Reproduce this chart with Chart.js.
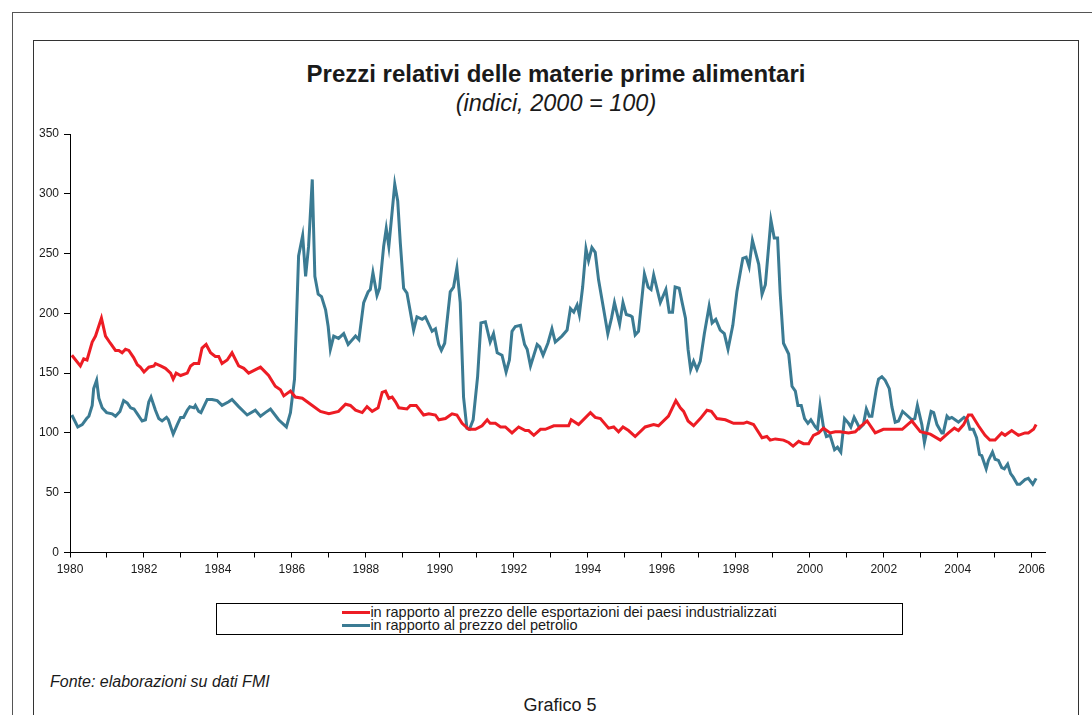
<!DOCTYPE html>
<html lang="it">
<head>
<meta charset="utf-8">
<title>Prezzi relativi delle materie prime alimentari</title>
<script src="https://cdn.jsdelivr.net/npm/chart.js@4.4.1/dist/chart.umd.min.js"></script>
<style>
    html, body { margin: 0; padding: 0; background: #fff; }
    body {
        width: 1092px; height: 715px; position: relative; overflow: hidden;
        font-family: "Liberation Sans", Arial, Helvetica, sans-serif; color: #1a1a1a;
    }
    .outer { position: absolute; left: 12px; top: 12px; width: 1100px; height: 720px;
             border-top: 1px solid #555; border-left: 1px solid #555; }
    .frame { position: absolute; left: 33px; top: 40px; width: 1044px; height: 700px;
             border: 1px solid #333; }
    .title { position: absolute; left: 33px; width: 1046px; top: 60px; text-align: center;
             font-size: 24px; line-height: 28px; font-weight: bold; }
    .subtitle { position: absolute; left: 33px; width: 1046px; top: 89px; text-align: center;
                font-size: 23.5px; line-height: 28px; font-style: italic; }
    .chart-wrap { position: absolute; left: 33px; top: 120px; width: 1045px; height: 470px; }
    .legend { position: absolute; left: 216px; top: 603px; width: 685px; height: 30px;
              border: 1px solid #000; text-align: center; }
    .legend-list { display: inline-block; text-align: left; margin-top: 2px; }
    .legend-item { font-size: 14.5px; line-height: 13px; white-space: nowrap; }
    .legend-swatch { display: inline-block; width: 28px; height: 3px; vertical-align: middle;
                     margin-top: -2px; }
    .source { position: absolute; left: 50px; top: 673px; font-size: 16px; line-height: 18px;
              font-style: italic; }
    .caption { position: absolute; left: 33px; width: 1054px; top: 695px; text-align: center;
               font-size: 18px; line-height: 20px; }
</style>
</head>
<body>
<div class="outer"></div>
<div class="frame"></div>
<div class="title">Prezzi relativi delle materie prime alimentari</div>
<div class="subtitle">(indici, 2000 = 100)</div>
<div class="chart-wrap"><canvas id="pricesChart" width="1045" height="470"></canvas></div>
<div class="legend"><div class="legend-list" id="legend"></div></div>
<div class="source">Fonte: elaborazioni su dati FMI</div>
<div class="caption">Grafico 5</div>

<script>
// food prices relative to industrial countries' export prices
const exportDates = [
    1980.05, 1980.28, 1980.37, 1980.46, 1980.60, 1980.69, 1980.85, 1980.96, 1981.09, 1981.23,
    1981.32, 1981.41, 1981.50, 1981.59, 1981.72, 1981.82, 1981.90, 1982.00, 1982.13, 1982.27,
    1982.31, 1982.45, 1982.58, 1982.72, 1982.79, 1982.87, 1982.99, 1983.17, 1983.26, 1983.35,
    1983.48, 1983.57, 1983.68, 1983.80, 1983.93, 1984.02, 1984.11, 1984.25, 1984.38, 1984.56,
    1984.70, 1984.83, 1985.15, 1985.37, 1985.55, 1985.69, 1985.78, 1985.96, 1986.09, 1986.28,
    1986.55, 1986.77, 1987.00, 1987.26, 1987.45, 1987.58, 1987.72, 1987.90, 1988.03, 1988.17,
    1988.33, 1988.44, 1988.53, 1988.62, 1988.71, 1988.80, 1988.89, 1989.11, 1989.20, 1989.36,
    1989.56, 1989.70, 1989.88, 1989.97, 1990.15, 1990.33, 1990.46, 1990.60, 1990.78, 1990.96,
    1991.14, 1991.28, 1991.36, 1991.50, 1991.64, 1991.77, 1991.95, 1992.13, 1992.31, 1992.40,
    1992.54, 1992.72, 1992.85, 1993.08, 1993.26, 1993.48, 1993.55, 1993.75, 1994.07, 1994.20,
    1994.34, 1994.56, 1994.70, 1994.83, 1994.95, 1995.10, 1995.28, 1995.55, 1995.78, 1995.91,
    1996.18, 1996.38, 1996.50, 1996.59, 1996.71, 1996.86, 1997.04, 1997.22, 1997.34, 1997.49,
    1997.72, 1997.94, 1998.21, 1998.30, 1998.48, 1998.71, 1998.84, 1998.93, 1999.07, 1999.29,
    1999.43, 1999.55, 1999.70, 1999.83, 1999.97, 2000.10, 2000.24, 2000.37, 2000.55, 2000.69,
    2000.82, 2001.05, 2001.23, 2001.36, 2001.55, 2001.77, 2001.99, 2002.22, 2002.50, 2002.76,
    2002.99, 2003.26, 2003.53, 2003.75, 2003.91, 2004.02, 2004.16, 2004.29, 2004.38, 2004.56,
    2004.74, 2004.87, 2005.01, 2005.19, 2005.28, 2005.46, 2005.64, 2005.82, 2005.91, 2006.05,
    2006.12
];
const exportValues = [
    165, 156, 162, 161, 176, 181, 196, 181, 175, 169,
    169, 167, 170, 169, 163, 157, 155, 151, 155, 156,
    158, 156, 154, 150, 145, 150, 148, 150, 156, 158,
    158, 171, 174, 167, 164, 164, 158, 161, 167, 156,
    154, 150, 155, 148, 139, 136, 131, 135, 130, 129,
    123, 118, 116, 118, 124, 123, 119, 117, 122, 118,
    121, 134, 135, 129, 130, 126, 121, 120, 123, 123,
    115, 116, 115, 111, 112, 116, 115, 108, 103, 103,
    106, 111, 108, 108, 105, 105, 100, 105, 102, 102,
    98, 103, 103, 106, 106, 106, 111, 107, 117, 113,
    112, 104, 105, 101, 105, 102, 97, 105, 107, 106,
    114, 127, 121, 118, 110, 106, 112, 119, 118, 112,
    111, 108, 108, 109, 107, 96, 97, 94, 95, 94,
    92, 89, 93, 91, 91, 98, 100, 104, 100, 101,
    101, 100, 101, 105, 110, 100, 103, 103, 103, 110,
    101, 99, 94, 100, 104, 102, 107, 115, 115, 106,
    98, 94, 94, 100, 98, 102, 98, 100, 100, 103,
    107
];

// food prices relative to oil price
const oilDates = [
    1980.05, 1980.21, 1980.33, 1980.45, 1980.51, 1980.60, 1980.64, 1980.72, 1980.78, 1980.87,
    1980.99, 1981.14, 1981.23, 1981.35, 1981.45, 1981.55, 1981.64, 1981.73, 1981.82, 1981.95,
    1982.04, 1982.13, 1982.19, 1982.31, 1982.40, 1982.49, 1982.61, 1982.66, 1982.79, 1982.90,
    1982.99, 1983.07, 1983.17, 1983.24, 1983.35, 1983.39, 1983.48, 1983.54, 1983.71, 1983.84,
    1983.98, 1984.11, 1984.29, 1984.38, 1984.56, 1984.79, 1985.01, 1985.15, 1985.28, 1985.42,
    1985.64, 1985.85, 1985.96, 1986.07, 1986.18, 1986.29, 1986.37, 1986.45, 1986.55, 1986.62,
    1986.71, 1986.80, 1986.91, 1986.98, 1987.04, 1987.13, 1987.26, 1987.40, 1987.52, 1987.72,
    1987.81, 1987.94, 1988.06, 1988.12, 1988.19, 1988.30, 1988.37, 1988.48, 1988.55, 1988.62,
    1988.78, 1988.86, 1988.93, 1989.02, 1989.11, 1989.29, 1989.38, 1989.52, 1989.61, 1989.79,
    1989.88, 1989.97, 1990.04, 1990.13, 1990.28, 1990.37, 1990.46, 1990.55, 1990.64, 1990.73,
    1990.80, 1990.90, 1991.02, 1991.11, 1991.23, 1991.36, 1991.45, 1991.55, 1991.68, 1991.79,
    1991.88, 1991.95, 1992.04, 1992.18, 1992.29, 1992.36, 1992.45, 1992.63, 1992.70, 1992.79,
    1992.92, 1993.03, 1993.12, 1993.30, 1993.44, 1993.53, 1993.62, 1993.71, 1993.77, 1993.86,
    1993.95, 1994.02, 1994.11, 1994.20, 1994.29, 1994.43, 1994.54, 1994.64, 1994.72, 1994.86,
    1994.95, 1995.04, 1995.15, 1995.20, 1995.28, 1995.37, 1995.53, 1995.63, 1995.71, 1995.78,
    1995.96, 1996.11, 1996.20, 1996.29, 1996.36, 1996.47, 1996.55, 1996.64, 1996.71, 1996.78,
    1996.86, 1996.95, 1997.04, 1997.15, 1997.28, 1997.36, 1997.46, 1997.58, 1997.69, 1997.79,
    1997.92, 1998.03, 1998.19, 1998.28, 1998.36, 1998.45, 1998.62, 1998.71, 1998.80, 1998.95,
    1999.04, 1999.13, 1999.20, 1999.29, 1999.43, 1999.52, 1999.61, 1999.68, 1999.77, 1999.86,
    1999.95, 2000.03, 2000.15, 2000.21, 2000.28, 2000.37, 2000.45, 2000.55, 2000.67, 2000.75,
    2000.84, 2000.94, 2001.05, 2001.11, 2001.20, 2001.35, 2001.45, 2001.53, 2001.61, 2001.68,
    2001.80, 2001.86, 2001.95, 2002.04, 2002.15, 2002.22, 2002.31, 2002.40, 2002.51, 2002.62,
    2002.76, 2002.84, 2002.91, 2003.03, 2003.10, 2003.28, 2003.35, 2003.44, 2003.57, 2003.61,
    2003.71, 2003.77, 2003.84, 2003.93, 2004.02, 2004.09, 2004.17, 2004.26, 2004.33, 2004.42,
    2004.51, 2004.59, 2004.65, 2004.77, 2004.83, 2004.94, 2005.01, 2005.10, 2005.19, 2005.26,
    2005.35, 2005.43, 2005.50, 2005.61, 2005.68, 2005.82, 2005.91, 2006.03, 2006.12
];
const oilValues = [
    115, 105, 107, 112, 114, 123, 137, 144, 129, 121,
    117, 116, 114, 118, 127, 125, 121, 120, 116, 110,
    111, 126, 130, 119, 112, 110, 113, 111, 99, 107,
    113, 113, 119, 122, 121, 123, 118, 117, 128, 128,
    127, 123, 126, 128, 122, 115, 119, 114, 117, 120,
    111, 105, 117, 145, 248, 265, 231, 256, 312, 231,
    216, 214, 203, 189, 170, 181, 179, 183, 174, 181,
    178, 209, 218, 220, 234, 215, 221, 256, 271, 256,
    308, 294, 259, 221, 217, 186, 197, 195, 197, 185,
    187, 174, 169, 175, 218, 222, 238, 209, 130, 104,
    103, 111, 147, 192, 193, 176, 183, 167, 165, 151,
    161, 185, 189, 190, 174, 170, 156, 174, 172, 165,
    175, 187, 176, 181, 186, 204, 201, 207, 199, 222,
    254, 244, 255, 251, 228, 203, 183, 196, 209, 191,
    209, 199, 198, 197, 182, 185, 233, 222, 220, 232,
    209, 220, 201, 201, 222, 221, 209, 196, 170, 153,
    160, 153, 160, 183, 206, 192, 195, 186, 183, 170,
    190, 218, 246, 247, 239, 261, 241, 216, 224, 278,
    263, 263, 217, 175, 166, 139, 135, 123, 123, 112,
    108, 111, 105, 103, 123, 105, 97, 98, 86, 88,
    84, 112, 108, 105, 113, 104, 107, 120, 114, 114,
    137, 145, 147, 144, 137, 122, 109, 110, 118, 115,
    111, 112, 123, 107, 92, 118, 117, 107, 100, 100,
    114, 112, 113, 111, 109, 111, 113, 111, 103, 103,
    96, 82, 81, 70, 77, 84, 78, 77, 71, 70,
    74, 66, 63, 57, 57, 61, 62, 57, 62
];

const seriesLabels = [
    'in rapporto al prezzo delle esportazioni dei paesi industrializzati',
    'in rapporto al prezzo del petrolio'
];
const yTickValues = [0, 50, 100, 150, 200, 250, 300, 350];
const firstYear = 1980;
const lastYear = 2006;

document.addEventListener('DOMContentLoaded', function () {
    const chart = initPricesChart();
    buildLegend(chart);
});

function toPoints(dates, values) {
    return dates.map((d, i) => ({ x: d, y: values[i] }));
}

function initPricesChart() {
    const ctx = document.getElementById('pricesChart').getContext('2d');
    const fontFamily = '"Liberation Sans", Arial, sans-serif';

    const years = [];
    for (let y = firstYear; y <= lastYear; y++) years.push(y);

    const data = {
        datasets: [{
            label: seriesLabels[0],
            data: toPoints(exportDates, exportValues),
            borderColor: '#ed1c24',
            borderWidth: 3,
            pointRadius: 0,
            tension: 0
        }, {
            label: seriesLabels[1],
            data: toPoints(oilDates, oilValues),
            borderColor: '#3b7b93',
            borderWidth: 3,
            pointRadius: 0,
            tension: 0
        }]
    };

    const options = {
        responsive: false,
        animation: false,
        layout: { padding: { top: 14, right: 33, left: 0, bottom: 0 } },
        plugins: {
            legend: { display: false },
            tooltip: { enabled: false }
        },
        scales: {
            x: {
                type: 'linear',
                min: firstYear,
                max: 2006.36,
                afterFit: scale => { scale.height = 37.5; },
                afterBuildTicks: scale => { scale.ticks = years.map(v => ({ value: v })); },
                ticks: {
                    autoSkip: false,
                    maxRotation: 0,
                    includeBounds: false,
                    padding: 5,
                    color: '#1a1a1a',
                    font: { family: fontFamily, size: 12 },
                    callback: v => (v % 2 === 0 ? String(v) : '')
                },
                grid: { drawOnChartArea: false, drawTicks: true, tickLength: 5, color: '#000' },
                border: { color: '#000', width: 1 }
            },
            y: {
                min: 0,
                max: 350,
                afterFit: scale => { scale.width = 37; },
                afterBuildTicks: scale => { scale.ticks = yTickValues.map(v => ({ value: v })); },
                ticks: {
                    padding: 5,
                    color: '#1a1a1a',
                    font: { family: fontFamily, size: 12 }
                },
                grid: { drawOnChartArea: false, drawTicks: true, tickLength: 6, color: '#000' },
                border: { color: '#000', width: 1 }
            }
        }
    };

    return new Chart(ctx, { type: 'line', data, options });
}

function buildLegend(chart) {
    const legend = document.getElementById('legend');
    chart.data.datasets.forEach(ds => {
        const item = document.createElement('div');
        item.className = 'legend-item';
        item.innerHTML = `<span class="legend-swatch" style="background:${ds.borderColor}"></span>${ds.label}`;
        legend.appendChild(item);
    });
}
</script>
</body>
</html>
